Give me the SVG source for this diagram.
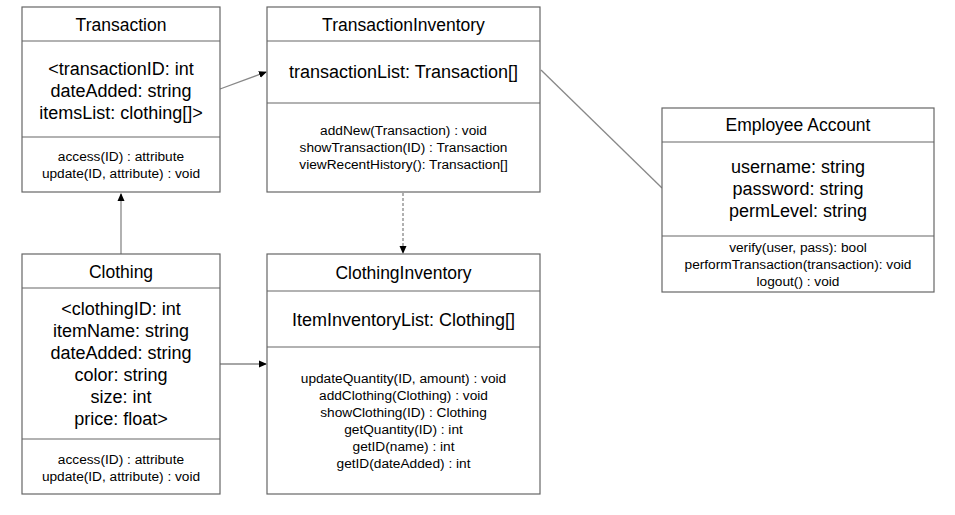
<svg xmlns="http://www.w3.org/2000/svg" width="955" height="515" viewBox="0 0 955 515">
<style>
.box{fill:#fff;stroke:#666;stroke-width:1.2}
.div{stroke:#666;stroke-width:1.2}
text{font-family:"Liberation Sans",Arial,sans-serif;fill:#000;text-anchor:middle}
.t{font-size:17.5px}
.a{font-size:18px}
.m{font-size:13.7px}
.c{stroke:#888;stroke-width:1.3;fill:none}
</style>
<defs>
<marker id="ar" markerWidth="8" markerHeight="8" refX="7" refY="4" orient="auto" markerUnits="userSpaceOnUse">
<path d="M0,0.5 L8,4 L0,7.5 Z" fill="#000"/>
</marker>
</defs>
<rect width="955" height="515" fill="#fff"/>
<g id="connectors">
<line class="c" x1="220" y1="89" x2="266" y2="72" marker-end="url(#ar)"/>
<line class="c" x1="541" y1="70" x2="662" y2="188"/>
<line class="c" x1="403" y1="193" x2="403" y2="253" stroke-dasharray="3,2" marker-end="url(#ar)"/>
<line class="c" x1="220" y1="364" x2="266" y2="364" marker-end="url(#ar)"/>
<line class="c" x1="121" y1="254" x2="121" y2="194" marker-end="url(#ar)"/>
</g>
<g id="Transaction">
<rect class="box" x="22" y="7" width="198" height="185"/>
<line class="div" x1="22" y1="41" x2="220" y2="41"/>
<line class="div" x1="22" y1="137" x2="220" y2="137"/>
<text class="t" x="121" y="31">Transaction</text>
<text class="a" x="121" y="75">&lt;transactionID: int</text>
<text class="a" x="121" y="97">dateAdded: string</text>
<text class="a" x="121" y="119">itemsList: clothing[]&gt;</text>
<text class="m" x="121" y="161">access(ID) : attribute</text>
<text class="m" x="121" y="178">update(ID, attribute) : void</text>
</g>
<g id="TransactionInventory">
<rect class="box" x="267" y="7" width="273" height="185"/>
<line class="div" x1="267" y1="41" x2="540" y2="41"/>
<line class="div" x1="267" y1="103" x2="540" y2="103"/>
<text class="t" x="403.5" y="31">TransactionInventory</text>
<text class="a" x="403.5" y="78">transactionList: Transaction[]</text>
<text class="m" x="403.5" y="135">addNew(Transaction) : void</text>
<text class="m" x="403.5" y="152">showTransaction(ID) : Transaction</text>
<text class="m" x="403.5" y="169">viewRecentHistory(): Transaction[]</text>
</g>
<g id="Clothing">
<rect class="box" x="22" y="254" width="198" height="240"/>
<line class="div" x1="22" y1="288" x2="220" y2="288"/>
<line class="div" x1="22" y1="439" x2="220" y2="439"/>
<text class="t" x="121" y="278">Clothing</text>
<text class="a" x="121" y="315">&lt;clothingID: int</text>
<text class="a" x="121" y="337">itemName: string</text>
<text class="a" x="121" y="359">dateAdded: string</text>
<text class="a" x="121" y="381">color: string</text>
<text class="a" x="121" y="403">size: int</text>
<text class="a" x="121" y="425">price: float&gt;</text>
<text class="m" x="121" y="464">access(ID) : attribute</text>
<text class="m" x="121" y="481">update(ID, attribute) : void</text>
</g>
<g id="ClothingInventory">
<rect class="box" x="267" y="254" width="273" height="240"/>
<line class="div" x1="267" y1="291" x2="540" y2="291"/>
<line class="div" x1="267" y1="347" x2="540" y2="347"/>
<text class="t" x="403.5" y="279">ClothingInventory</text>
<text class="a" x="403.5" y="326">ItemInventoryList: Clothing[]</text>
<text class="m" x="403.5" y="383">updateQuantity(ID, amount) : void</text>
<text class="m" x="403.5" y="400">addClothing(Clothing) : void</text>
<text class="m" x="403.5" y="417">showClothing(ID) : Clothing</text>
<text class="m" x="403.5" y="434">getQuantity(ID) : int</text>
<text class="m" x="403.5" y="451">getID(name) : int</text>
<text class="m" x="403.5" y="468">getID(dateAdded) : int</text>
</g>
<g id="EmployeeAccount">
<rect class="box" x="662" y="108" width="272" height="184"/>
<line class="div" x1="662" y1="142" x2="934" y2="142"/>
<line class="div" x1="662" y1="236" x2="934" y2="236"/>
<text class="t" x="798" y="131">Employee Account</text>
<text class="a" x="798" y="173">username: string</text>
<text class="a" x="798" y="195">password: string</text>
<text class="a" x="798" y="217">permLevel: string</text>
<text class="m" x="798" y="252">verify(user, pass): bool</text>
<text class="m" x="798" y="269">performTransaction(transaction): void</text>
<text class="m" x="798" y="286">logout() : void</text>
</g>
</svg>
